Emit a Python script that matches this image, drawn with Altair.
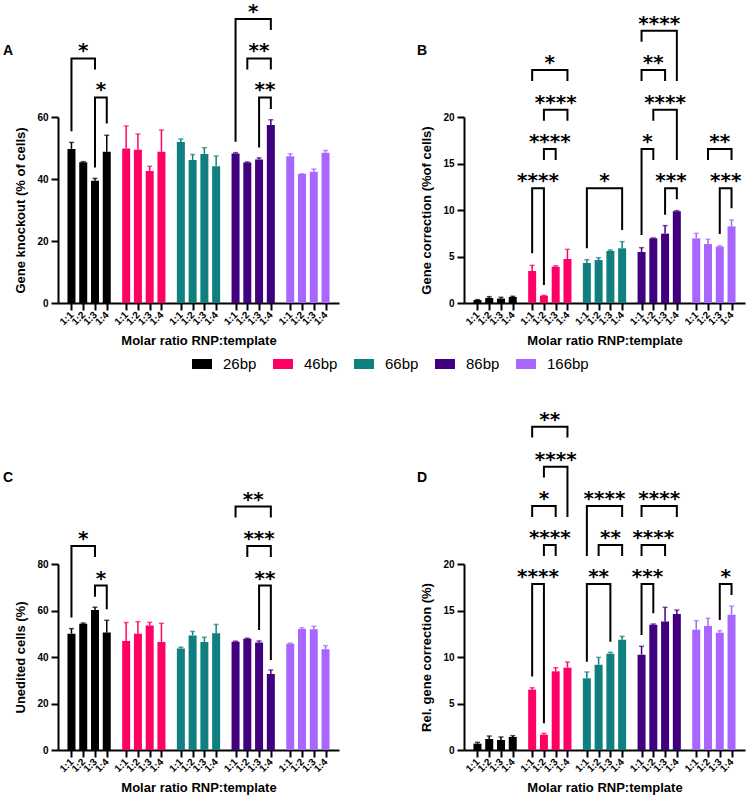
import json

import altair as alt
import pandas as pd

GROUPS = ["26bp", "46bp", "66bp", "86bp", "166bp"]
RATIOS = ["1:1", "1:2", "1:3", "1:4"]
COLORS = ["#000000", "#ff0066", "#0f7f7f", "#40007f", "#a966ff"]

# Bar means and mean + SD, ordered group by group (26bp 1:1..1:4, 46bp 1:1..1:4, ...)
KO_MEAN = [49.7, 45.4, 39.4, 48.8, 49.8, 49.4, 42.6, 48.8, 51.9, 46.1, 48.1, 44.1,
           48.2, 45.3, 46.3, 57.4, 47.3, 41.6, 42.3, 48.5]
KO_TOP = [51.8, 45.6, 40.2, 54.1, 57.1, 54.5, 44.1, 55.8, 52.9, 47.9, 50.1, 47.4,
          48.5, 45.5, 46.8, 59.1, 48.1, 41.7, 43.2, 49.2]
GC_MEAN = [0.32, 0.54, 0.47, 0.65, 3.44, 0.79, 3.90, 4.73, 4.30, 4.62, 5.59, 5.88,
           5.48, 6.95, 7.46, 9.86, 6.95, 6.34, 6.06, 8.24]
GC_TOP = [0.36, 0.68, 0.61, 0.72, 4.05, 0.82, 4.01, 5.77, 4.66, 4.87, 5.70, 6.60,
          5.95, 7.00, 8.32, 9.93, 7.49, 6.85, 6.16, 8.92]
UN_MEAN = [50.0, 54.3, 60.2, 50.5, 46.9, 50.0, 53.5, 46.5, 43.7, 49.3, 46.5, 50.2,
           46.6, 47.9, 46.2, 32.7, 45.7, 52.0, 51.9, 43.3]
UN_TOP = [52.2, 54.6, 61.4, 55.8, 54.8, 55.2, 54.9, 54.5, 44.2, 51.0, 48.5, 54.0,
          46.8, 48.1, 46.9, 34.4, 46.0, 52.6, 53.2, 44.9]
RG_MEAN = [0.68, 1.18, 1.08, 1.40, 6.49, 1.65, 8.46, 8.85, 7.71, 9.18, 10.36, 11.86,
           10.25, 13.48, 13.83, 14.62, 12.94, 13.33, 12.62, 14.55]
RG_TOP = [0.82, 1.50, 1.40, 1.54, 6.70, 1.79, 8.85, 9.46, 8.39, 9.96, 10.50, 12.22,
          11.15, 13.55, 15.34, 15.05, 13.91, 14.16, 12.83, 15.48]

# Significance brackets: (group, bar a, bar b, bracket level, left leg end, right leg end, stars)
KO_BRACKETS = [
    (0, 0, 2, 78.9, 55.4, 75.3, "*"),
    (0, 2, 3, 66.3, 43.7, 57.9, "*"),
    (3, 0, 3, 91.6, 52.0, 88.1, "*"),
    (3, 1, 3, 78.9, 75.3, 75.3, "**"),
    (3, 2, 3, 66.3, 50.2, 62.6, "**"),
]
GC_BRACKETS = [
    (1, 0, 1, 12.33, 5.34, 1.94, "****"),
    (1, 1, 2, 16.56, 15.38, 15.38, "****"),
    (1, 1, 3, 20.79, 19.61, 19.61, "****"),
    (1, 0, 3, 25.05, 23.87, 23.87, "*"),
    (2, 0, 3, 12.33, 5.88, 7.85, "*"),
    (3, 0, 1, 16.56, 7.30, 15.38, "*"),
    (3, 2, 3, 12.33, 9.50, 11.15, "***"),
    (3, 1, 3, 20.79, 19.61, 15.38, "****"),
    (3, 0, 2, 25.05, 23.87, 23.87, "**"),
    (3, 0, 3, 29.28, 28.10, 23.87, "****"),
    (4, 2, 3, 12.33, 7.42, 10.18, "***"),
    (4, 1, 3, 16.56, 15.38, 15.38, "**"),
]
UN_BRACKETS = [
    (0, 0, 2, 87.7, 57.0, 83.0, "*"),
    (0, 2, 3, 70.7, 65.9, 60.5, "*"),
    (3, 0, 3, 104.7, 100.0, 100.0, "**"),
    (3, 1, 3, 87.7, 83.0, 83.0, "***"),
    (3, 2, 3, 70.7, 51.6, 38.7, "**"),
]
RG_BRACKETS = [
    (1, 0, 1, 17.85, 7.89, 2.87, "****"),
    (1, 1, 2, 22.04, 20.86, 20.86, "****"),
    (1, 0, 2, 26.24, 25.06, 25.06, "*"),
    (1, 1, 3, 30.47, 29.29, 25.06, "****"),
    (1, 0, 3, 34.77, 33.59, 33.59, "**"),
    (2, 0, 2, 17.85, 9.50, 11.65, "**"),
    (2, 1, 3, 22.04, 20.86, 20.86, "**"),
    (2, 0, 3, 26.24, 20.86, 25.06, "****"),
    (3, 0, 1, 17.85, 12.37, 14.70, "***"),
    (3, 0, 2, 22.04, 20.86, 20.86, "****"),
    (3, 0, 3, 26.24, 25.06, 25.06, "****"),
    (4, 2, 3, 17.85, 13.98, 16.67, "*"),
]

# x layout in integer units: bars 20 apart, groups 93 apart (one bar slot plus a gap)
BAR_STEP = 20
GROUP_STEP = 93
X_LO = -14.4
X_HI = GROUP_STEP * 4 + BAR_STEP * 3 + 14.4

PW, PH = 281, 186
FONT = "Liberation Sans"


def pos(g, i):
    return g * GROUP_STEP + i * BAR_STEP


TICK_POS = [pos(g, i) for g in range(len(GROUPS)) for i in range(len(RATIOS))]
LABEL_EXPR = f"{json.dumps(RATIOS)}[(datum.value % {GROUP_STEP}) / {BAR_STEP}]"

color_enc = alt.Color(
    "group:N",
    scale=alt.Scale(domain=GROUPS, range=COLORS),
    legend=alt.Legend(
        orient="none", legendX=134, legendY=237, direction="horizontal",
        columns=5, title=None, symbolType="M-1,-0.5L1,-0.5L1,0.5L-1,0.5Z",
        symbolSize=400, symbolStrokeWidth=0, symbolOpacity=1,
        labelFont=FONT, labelFontSize=15, labelColor="black",
        labelOffset=11, columnPadding=16, padding=0,
    ),
)


def bar_table(means, tops):
    rows = []
    for g, name in enumerate(GROUPS):
        for i, r in enumerate(RATIOS):
            k = g * len(RATIOS) + i
            rows.append({"group": name, "ratio": r, "pos": pos(g, i),
                         "mean": means[k], "top": tops[k]})
    return pd.DataFrame(rows)


def bracket_tables(brackets):
    lines, stars = [], []
    for k, (g, a, b, lvl, lo_a, lo_b, s) in enumerate(brackets):
        xa, xb = pos(g, a), pos(g, b)
        for j, (xx, yy) in enumerate([(xa, lo_a), (xa, lvl), (xb, lvl), (xb, lo_b)]):
            lines.append({"id": k, "k": j, "bx": xx, "by": yy})
        stars.append({"sx": (xa + xb) / 2, "sy": lvl, "label": s})
    return pd.DataFrame(lines), pd.DataFrame(stars)


def panel(means, tops, brackets, ytitle, ymax, ystep, letter, lx, ly):
    xscale = alt.Scale(domain=[X_LO, X_HI], nice=False, zero=False)
    yscale = alt.Scale(domain=[0, ymax], nice=False)
    xaxis = alt.Axis(values=TICK_POS, labelExpr=LABEL_EXPR, labelAngle=-45,
                     labelAlign="right", labelBaseline="middle",
                     labelOverlap=False, labelFlush=False, labelBound=False,
                     title="Molar ratio RNP:template", titlePadding=8)
    yaxis = alt.Axis(values=list(range(0, ymax + 1, ystep)), title=ytitle,
                     titlePadding=9, labelOverlap=False)

    def X(f):
        return alt.X(f"{f}:Q", scale=xscale, axis=xaxis)

    def Y(f):
        return alt.Y(f"{f}:Q", scale=yscale, axis=yaxis)

    bars_df = bar_table(means, tops)
    lines_df, stars_df = bracket_tables(brackets)

    bars = alt.Chart(bars_df).mark_bar(orient="vertical", size=8).encode(
        x=X("pos"), y=Y("mean"), color=color_enc)
    stems = alt.Chart(bars_df).mark_rule(strokeWidth=1.5).encode(
        x=X("pos"), y=Y("mean"), y2="top:Q", color=color_enc)
    caps = alt.Chart(bars_df).mark_tick(orient="horizontal", size=5, thickness=1.5).encode(
        x=X("pos"), y=Y("top"), color=color_enc)
    lines = alt.Chart(lines_df).mark_line(
        color="black", strokeWidth=2, strokeJoin="miter", strokeCap="butt").encode(
        x=X("bx"), y=Y("by"), detail="id:N", order="k:Q")
    stars = alt.Chart(stars_df).mark_text(
        font="DejaVu Sans", fontWeight="bold", fontSize=20, baseline="alphabetic",
        align="center", dy=-1, color="black").encode(
        x=X("sx"), y=Y("sy"), text="label:N")
    tag = alt.Chart(pd.DataFrame({"t": [letter]})).mark_text(
        font=FONT, fontWeight="bold", fontSize=14, align="left",
        baseline="alphabetic", color="black").encode(
        x=alt.value(lx), y=alt.value(ly), text="t:N")
    return alt.layer(bars, stems, caps, lines, stars, tag).properties(width=PW, height=PH)


pA = panel(KO_MEAN, KO_TOP, KO_BRACKETS, "Gene knockout (% of cells)", 60, 20, "A", -55, -62)
pB = panel(GC_MEAN, GC_TOP, GC_BRACKETS, "Gene correction (%of cells)", 20, 5, "B", -47, -62)
pC = panel(UN_MEAN, UN_TOP, UN_BRACKETS, "Unedited cells (%)", 80, 20, "C", -55, -82)
pD = panel(RG_MEAN, RG_TOP, RG_BRACKETS, "Rel. gene correction (%)", 20, 5, "D", -47, -82)

chart = alt.concat(
    pA, pB, pC, pD, columns=2, spacing={"row": 261, "column": 125}, bounds="flush"
).properties(
    padding={"left": 3, "top": 2, "right": 2, "bottom": 5}
).configure_view(stroke=None).configure_axis(
    grid=False, domainColor="black", domainWidth=2, tickColor="black", tickWidth=2,
    tickSize=7, labelFont=FONT, labelFontSize=10, labelFontWeight="bold",
    labelColor="black", labelPadding=3, titleFont=FONT, titleFontSize=13,
    titleFontWeight="bold", titleColor="black",
)

chart.save("out.html", embed_options={"renderer": "svg", "actions": False})
